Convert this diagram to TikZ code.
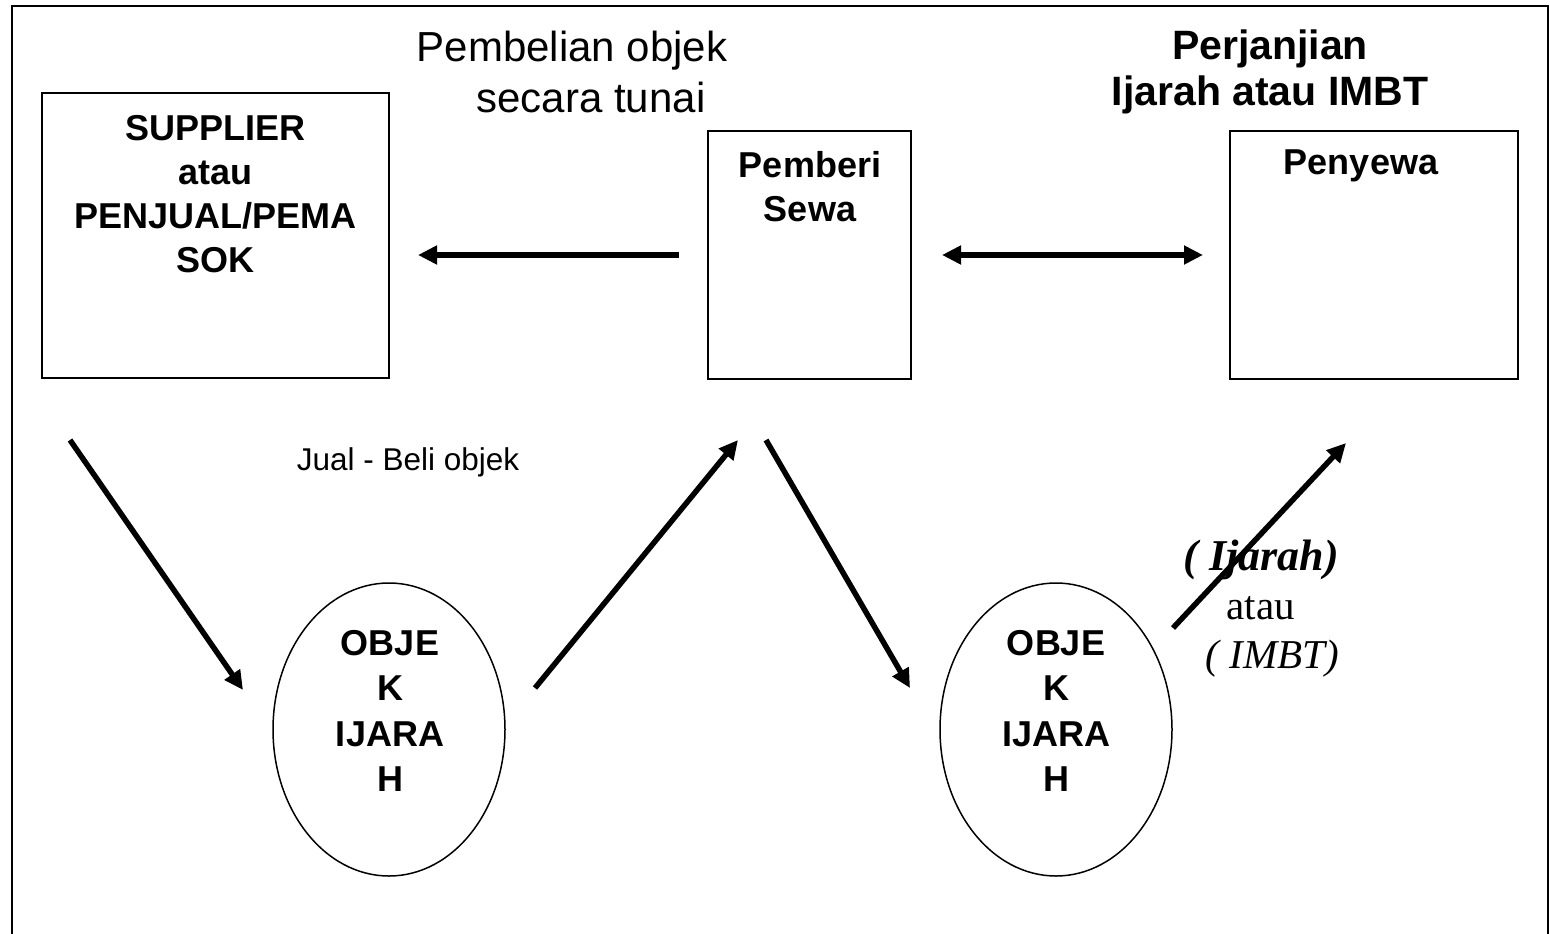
\documentclass[tikz,border=0pt]{standalone}
\usepackage{fontspec}
\setmainfont{Liberation Sans}
\newfontfamily\timesf{Liberation Serif}
\usetikzlibrary{arrows.meta,shapes.geometric}
\tikzset{
  frame/.style={line width=2pt},
  box/.style={draw, line width=1.6pt, inner sep=0pt, rectangle},
  obj/.style={draw, ellipse, line width=1.5pt, inner sep=0pt, minimum width=232pt, minimum height=293pt},
  lbl/.style={inner sep=0pt, align=center, anchor=north, font=\fontsize{36}{44}\selectfont\bfseries},
  objlbl/.style={inner sep=0pt, align=center, anchor=north, font=\fontsize{36}{45.5}\selectfont\bfseries},
  arr/.style={line width=5.5pt, -{Triangle[length=19pt,width=18pt]}},
  darr/.style={line width=5.5pt, {Triangle[length=19pt,width=18pt]}-{Triangle[length=19pt,width=18pt]}},
}
\begin{document}
\begin{tikzpicture}[x=1pt,y=-1pt]
\useasboundingbox (0,0) rectangle (1550,934);
\clip (0,0) rectangle (1550,934);
% outer frame (bottom edge lies outside the picture)
\draw[frame] (12,960) -- (12,6) -- (1548,6) -- (1548,960);

% boxes
\node[box, minimum width=347pt, minimum height=285pt] (supplier) at (215.5,235.5) {};
\node[box, minimum width=203pt, minimum height=248pt] (pemberi) at (809.5,255) {};
\node[box, minimum width=288pt, minimum height=248pt] (penyewa) at (1374,255) {};

\node[lbl] (supplierlbl) at (215.5,115) {SUPPLIER\\atau\\PENJUAL/PEMA\\SOK};
\node[lbl] (pemberilbl) at (810,151) {Pemberi\\Sewa};
\node[lbl] (penyewalbl) at (1361,150) {Penyewa};

% top texts
\node[inner sep=0pt, align=center, anchor=north, font=\fontsize{42}{51}\selectfont] (beli) at (572,31)
  {Pembelian objek\\\hspace*{38pt}secara tunai};
\node[inner sep=0pt, align=center, anchor=north, font=\fontsize{41}{46}\selectfont\bfseries] (perjanjian) at (1270,30)
  {Perjanjian\\Ijarah atau IMBT};

% ellipses
\node[obj] (obj1) at (389,729.5) {};
\node[obj] (obj2) at (1056,729.5) {};
\node[objlbl] (obj1lbl) at (390,630) {OBJE\\K\\IJARA\\H};
\node[objlbl] (obj2lbl) at (1056,630) {OBJE\\K\\IJARA\\H};

% other labels
\node[inner sep=0pt, anchor=north, font=\fontsize{31.5}{38}\selectfont] (jualbeli) at (408,447) {Jual - Beli objek};
\node[inner sep=0pt, align=right, anchor=north east, font=\fontsize{41}{49}\timesf] (jenis) at (1339,540)
  {{\fontsize{44}{49}\selectfont\bfseries\itshape ( Ijarah)}\\atau\hspace*{44pt}\mbox{}\\\textit{( IMBT)}};

% arrow end points
\coordinate (a1s) at (679,255);
\coordinate (a1e) at (418,255);
\coordinate (a2s) at (942,255);
\coordinate (a2e) at (1203,255);
\coordinate (a3s) at (70,440);
\coordinate (a3e) at (243,690);
\coordinate (a4s) at (535,688);
\coordinate (a4e) at (738,440);
\coordinate (a5s) at (766,440);
\coordinate (a5e) at (910,688);
\coordinate (a6s) at (1173,628);
\coordinate (a6e) at (1346,443);

\draw[arr] (a1s) -- (a1e);
\draw[darr] (a2s) -- (a2e);
\draw[arr] (a3s) -- (a3e);
\draw[arr] (a4s) -- (a4e);
\draw[arr] (a5s) -- (a5e);
\draw[arr] (a6s) -- (a6e);
\end{tikzpicture}
\end{document}
